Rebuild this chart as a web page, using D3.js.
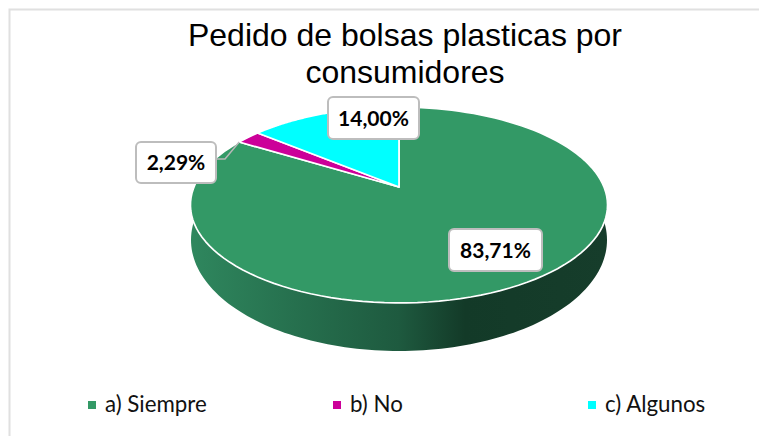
<!DOCTYPE html>
<html><head><meta charset="utf-8">
<script src="https://cdn.jsdelivr.net/npm/d3@7/dist/d3.min.js"></script>
<style>html,body{margin:0;padding:0;background:#fff}svg{display:block}</style></head>
<body><svg id="c" width="759" height="436"></svg>
<script>
const categories = ["a) Siempre", "b) No", "c) Algunos"];
const values = [83.71, 2.29, 14.00];
const labels = ["83,71%", "2,29%", "14,00%"];
const colors = ["#339966", "#CC0099", "#00FFFF"];
const titleLines = ["Pedido de bolsas plasticas por", "consumidores"];

const svg = d3.select("#c");
const defs = svg.append("defs");
const grad = defs.append("linearGradient").attr("id","wall").attr("gradientUnits","userSpaceOnUse")
  .attr("x1",190).attr("x2",607).attr("y1",0).attr("y2",0);
[[0,"#2f875e"],[0.25,"#26704e"],[0.5,"#1e5a3f"],[0.66,"#133a28"],[1,"#163d2b"]].forEach(s=>
  grad.append("stop").attr("offset",s[0]).attr("stop-color",s[1]));

svg.append("rect").attr("x",9.5).attr("y",9.5).attr("width",760).attr("height",440)
  .attr("fill","#fff").attr("stroke","#e0e0e0").attr("stroke-width",2);

titleLines.forEach((t,i)=>svg.append("text").text(t).attr("x",405).attr("y",46+i*37)
  .attr("text-anchor","middle").attr("font-family","Liberation Sans").attr("font-size",32).attr("fill","#000"));

// perspective projection of the unit disc onto the page
const cx=399, R=205, a=60.3, b=187, c=-0.1837;
const proj=(theta,r=1)=>{
  const u=r*Math.sin(theta), v=-r*Math.cos(theta), d=1+c*v;
  return [cx+R*u/d, (a*v+b)/d];
};
const line=d3.line();
const arcs=d3.pie().sort(null).value(d=>d)(values);
const steps=(s,e)=>d3.range(0,121).map(i=>s+(e-s)*i/120);

// side wall: front part of top outline, closed by the lower rim
const rim=steps(Math.PI/2+0.334,3*Math.PI/2-0.334).map(t=>proj(t));
const lower=steps(3*Math.PI/2+0.18,Math.PI/2-0.18).map(t=>[cx+208*Math.sin(t),240-111*Math.cos(t)]);
svg.append("path").attr("d",line(rim.concat(lower))+"Z").attr("fill","url(#wall)");

// top face
arcs.forEach((s,i)=>{
  const pts=[proj(0,0)].concat(steps(s.startAngle,s.endAngle).map(t=>proj(t)));
  svg.append("path").attr("d",line(pts)+"Z").attr("fill",colors[i])
    .attr("stroke","#fff").attr("stroke-width",1.7).attr("stroke-linejoin","round");
});

// leader line
const mid=proj(arcs[1].startAngle);
svg.append("path").attr("d",line([[216,159],[225,159],mid])).attr("fill","none").attr("stroke","#b8b8b8").attr("stroke-width",1.5);

// data labels
const boxes=[[449,229,93,42],[136,142,80,41],[328,97,91,42]];
labels.forEach((t,i)=>{
  const [x,y,w,h]=boxes[i];
  svg.append("rect").attr("x",x).attr("y",y).attr("width",w).attr("height",h).attr("rx",5)
    .attr("fill","#fff").attr("stroke","#bdbdbd").attr("stroke-width",2);
  svg.append("text").text(t).attr("x",x+w/2).attr("y",y+h/2+7.5).attr("text-anchor","middle")
    .attr("font-family","Lato").attr("font-weight",700).attr("font-size",21).attr("fill","#000");
});

// legend
const lx=[88,333,588];
categories.forEach((t,i)=>{
  svg.append("rect").attr("x",lx[i]).attr("y",401).attr("width",8).attr("height",8).attr("fill",colors[i]);
  svg.append("text").text(t).attr("x",lx[i]+17).attr("y",412).attr("font-family","Lato").attr("font-size",22.3).attr("fill","#111");
});
</script></body></html>
